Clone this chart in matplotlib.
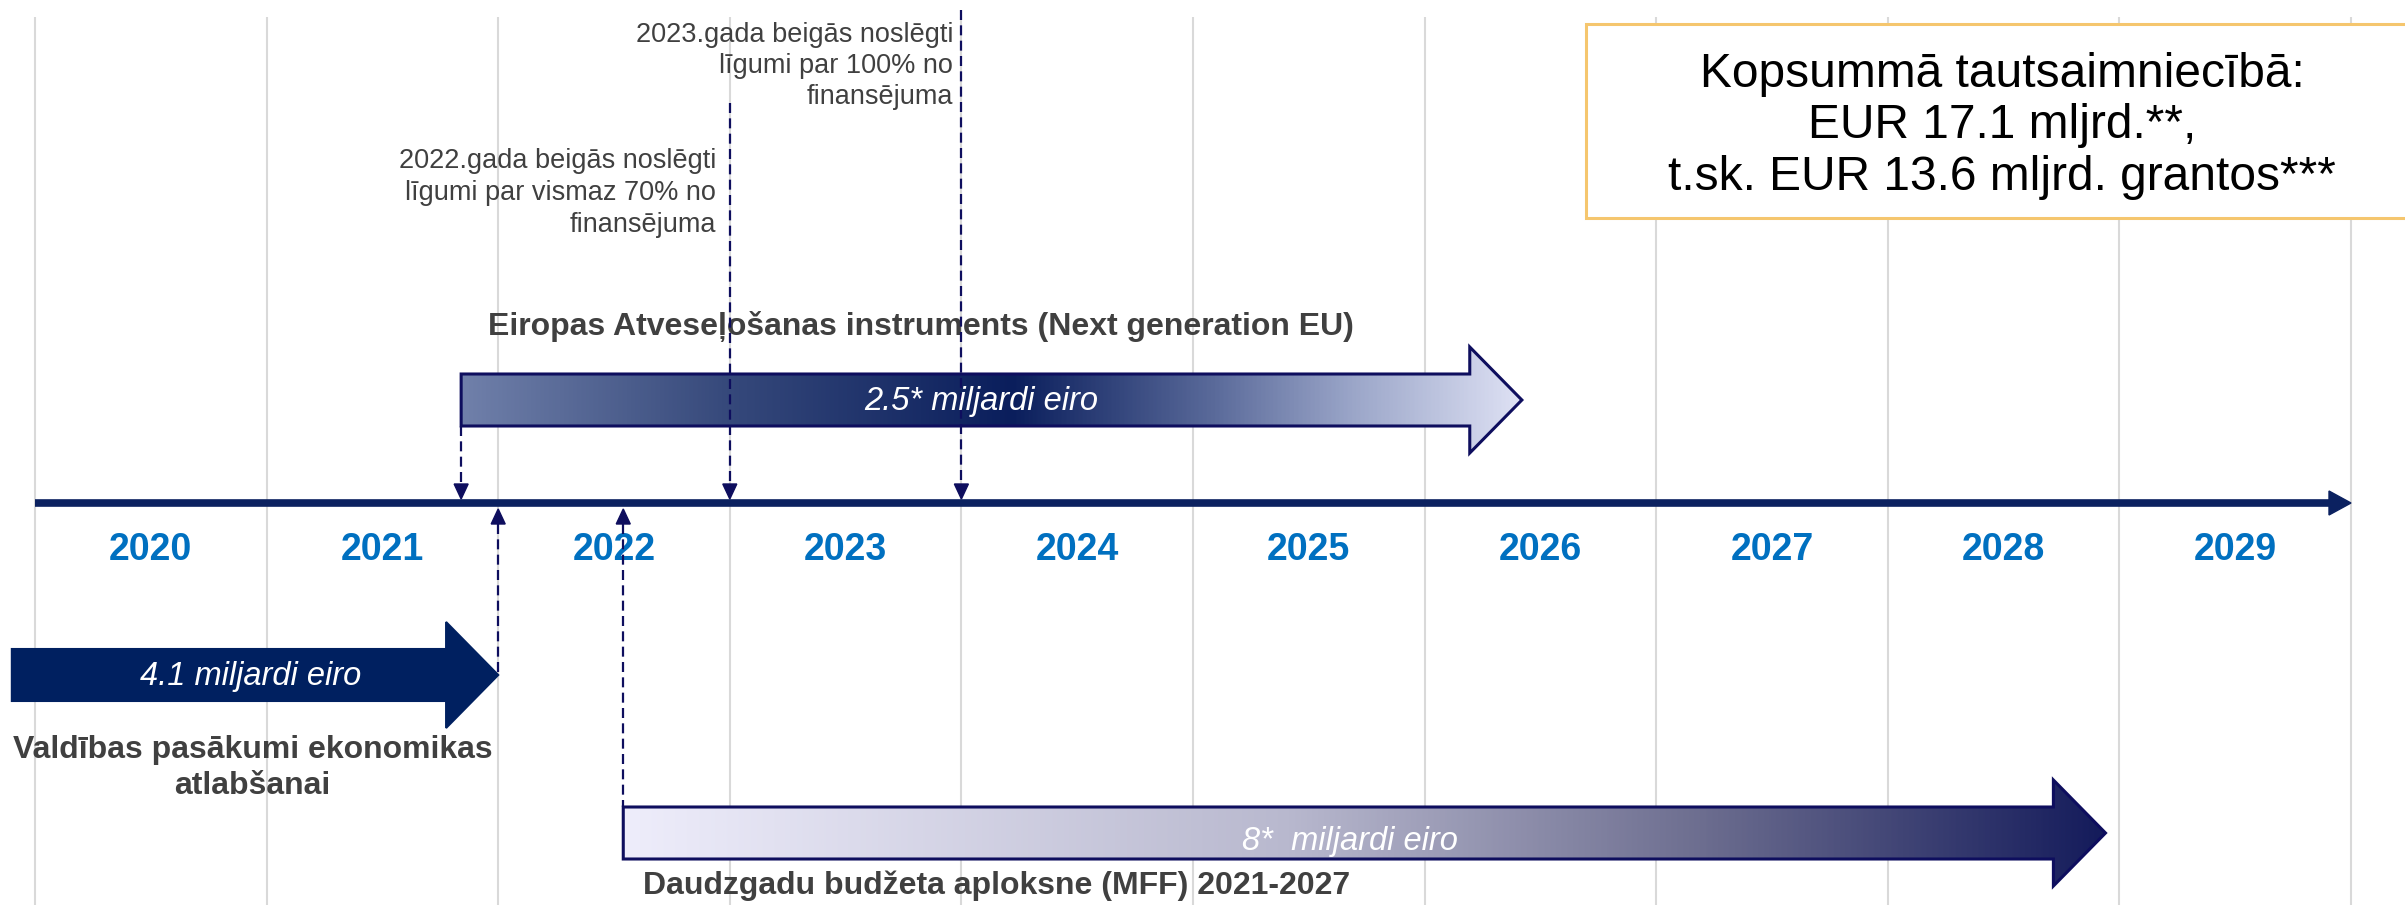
import numpy as np
import matplotlib
matplotlib.use("Agg")
import matplotlib.pyplot as plt
from matplotlib.patches import Polygon, Rectangle
from matplotlib.colors import LinearSegmentedColormap

plt.rcParams['font.family'] = ['Liberation Sans', 'DejaVu Sans']

# --- data -------------------------------------------------------------
years = [2020, 2021, 2022, 2023, 2024, 2025, 2026, 2027, 2028, 2029]
year_edges = years + [2030]

prog_names = ["Eiropas Atveseļošanas instruments (Next generation EU)",
              "Valdības pasākumi ekonomikas\natlabšanai",
              "Daudzgadu budžeta aploksne (MFF) 2021-2027"]
prog_amounts = ["2.5* miljardi eiro", "4.1 miljardi eiro", "8*  miljardi eiro"]
prog_start = [2021.84, 2019.90, 2022.54]
prog_end = [2026.42, 2022.00, 2028.94]

milestone_years = [2023.0, 2024.0]
milestone_texts = ["2022.gada beigās noslēgti\nlīgumi par vismaz 70% no\nfinansējuma",
                   "2023.gada beigās noslēgti\nlīgumi par 100% no\nfinansējuma"]

summary_lines = ["Kopsummā tautsaimniecībā:",
                 "EUR 17.1 mljrd.**,",
                 "t.sk. EUR 13.6 mljrd. grantos***"]

# --- styling ----------------------------------------------------------
NAVY = '#0E0E5E'
AXIS_NAVY = '#0B2160'
GRAY_TXT = '#404040'
YEAR_BLUE = '#0070C0'
PX = 231.6  # pixels per year

fig = plt.figure(figsize=(24.05, 9.05), dpi=100)
ax = fig.add_axes([0, 0, 1, 1])
ax.axis('off')

# grid lines between years
ax.vlines(year_edges, 17, 905, color='#D9D9D9', lw=1.5, zorder=0)

# timeline axis
axis_y = 503
head_len = 22 / PX
ax.plot([year_edges[0], year_edges[-1] - head_len], [axis_y, axis_y],
        color=AXIS_NAVY, lw=5.5, solid_capstyle='butt', zorder=3)
ax.add_patch(Polygon([(year_edges[-1] - head_len, axis_y - 12),
                      (year_edges[-1], axis_y),
                      (year_edges[-1] - head_len, axis_y + 12)],
                     closed=True, color=AXIS_NAVY, zorder=3))

for y in years:
    ax.text(y + 0.5, 550, str(y), ha='center', va='center', fontsize=27,
            fontweight='bold', color=YEAR_BLUE)


def big_arrow(x0, x1, yc, fill, edge):
    hl = 0.225
    bh, hh = 26, 53
    pts = [(x0, yc - bh), (x1 - hl, yc - bh), (x1 - hl, yc - hh), (x1, yc),
           (x1 - hl, yc + hh), (x1 - hl, yc + bh), (x0, yc + bh)]
    if isinstance(fill, str):
        ax.add_patch(Polygon(pts, closed=True, facecolor=fill, edgecolor=edge,
                             lw=1.5, zorder=2))
    else:
        poly = Polygon(pts, closed=True, facecolor='none', edgecolor=edge,
                       lw=2.2, zorder=2.5)
        ax.add_patch(poly)
        cmap = LinearSegmentedColormap.from_list('g', fill)
        grad = np.linspace(0, 1, 512).reshape(1, -1)
        im = ax.imshow(grad, cmap=cmap, aspect='auto',
                       extent=(x0, x1, yc + hh, yc - hh), zorder=2)
        im.set_clip_path(poly)


arrow_y = [400, 675, 833]
fills = [
    [(0.0, '#7080AA'), (0.25, '#36497B'), (0.52, '#0A1E5C'), (0.71, '#5A6A9A'),
     (0.84, '#9AA5C8'), (1.0, '#DEE1F4')],
    '#002060',
    [(0.0, '#EEEDFB'), (0.45, '#B8B8CE'), (0.73, '#6C6D8F'), (1.0, '#141B5B')],
]
for i in range(3):
    big_arrow(prog_start[i], prog_end[i], arrow_y[i], fills[i],
              '#002060' if i == 1 else NAVY)
    tx = prog_start[i] + 0.49 * (prog_end[i] - prog_start[i])
    ax.text(tx, arrow_y[i] + (8 if i == 2 else 1), prog_amounts[i], ha='center',
            va='center', fontsize=23.5, style='italic', color='white', zorder=4)

ax.set_xlim(2020 - 35 / PX, 2020 + (2405 - 35) / PX)
ax.set_ylim(905, 0)

# programme titles
ax.text(prog_start[0] + 0.115, 326, prog_names[0], ha='left', va='center',
        fontsize=23, fontweight='bold', color=GRAY_TXT)
ax.text(2020.94, 768, prog_names[1], ha='center', va='center', fontsize=23,
        fontweight='bold', color=GRAY_TXT, linespacing=1.25)
ax.text(prog_start[2] + 0.085, 886, prog_names[2], ha='left', va='center',
        fontsize=23, fontweight='bold', color=GRAY_TXT)


def dashed(x, y0, y1, direction):
    # direction: +1 arrow pointing down at y1, -1 arrow pointing up at y0
    aw, ah = 7 / PX, 15
    if direction > 0:
        ax.plot([x, x], [y0, y1 - ah], color=NAVY, lw=1.6, dashes=(4.5, 2.4),
                zorder=3)
        tri = [(x - aw, y1 - ah), (x + aw, y1 - ah), (x, y1)]
    else:
        ax.plot([x, x], [y0 + ah, y1], color=NAVY, lw=1.6, dashes=(4.5, 2.4),
                zorder=3)
        tri = [(x - aw, y0 + ah), (x + aw, y0 + ah), (x, y0)]
    ax.add_patch(Polygon(tri, closed=True, color=NAVY, zorder=3))


dashed(prog_start[0], arrow_y[0] + 26, 499, 1)
dashed(milestone_years[0], 103, 499, 1)
dashed(milestone_years[1], 10, 499, 1)
dashed(prog_end[1], 509, arrow_y[1], -1)
dashed(prog_start[2], 509, arrow_y[2] - 26, -1)

# milestone notes
ax.text(milestone_years[0] - 0.06, 193, milestone_texts[0], ha='right',
        va='center', fontsize=19.5, color=GRAY_TXT, linespacing=1.28)
ax.text(milestone_years[1] - 0.035, 66, milestone_texts[1], ha='right',
        va='center', fontsize=19.5, color=GRAY_TXT, linespacing=1.25)

# summary box
bx0 = 2020 + (1586 - 35) / PX
ax.add_patch(Rectangle((bx0, 24), 4, 194, facecolor='white',
                       edgecolor='#F5C66E', lw=2.2, zorder=5))
ax.text(2020 + (2002 - 35) / PX, 126, "\n".join(summary_lines), ha='center',
        va='center', fontsize=34.5, color='black', linespacing=1.18, zorder=6)

fig.savefig('out.png', dpi=100)
